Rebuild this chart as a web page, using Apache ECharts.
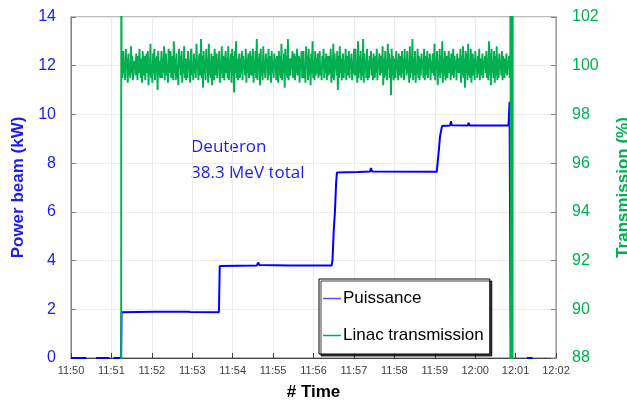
<!DOCTYPE html>
<html>
<head>
<meta charset="utf-8">
<script src="https://cdn.jsdelivr.net/npm/echarts@6/dist/echarts.min.js"></script>
<style>html,body{margin:0;padding:0;background:#fff}#c{width:627px;height:403px}</style>
</head>
<body>
<div id="c"></div>
<script>
// time in minutes after 11:50
const timeLabels = ['11:50','11:51','11:52','11:53','11:54','11:55','11:56','11:57','11:58','11:59','12:00','12:01','12:02'];

// Puissance (kW): [minute, kW]
const powerData = [
  [0,0],[0.38,0],null,[0.62,0],[0.95,0],null,[1.05,0],[1.24,0],
  [1.25,1.88],[2.08,1.9],[2.1,1.97],[2.13,1.9],[2.9,1.9],[2.92,1.93],[2.95,1.89],[3.66,1.88],
  [3.68,3.78],[4.6,3.8],[4.63,3.92],[4.66,3.82],[5.4,3.8],[6.45,3.8],
  [6.47,4.02],[6.5,5.2],[6.53,6.0],[6.56,7.2],[6.58,7.62],[7.1,7.64],[7.4,7.66],[7.42,7.8],[7.45,7.66],[9.05,7.65],
  [9.07,8.0],[9.1,8.5],[9.13,9.1],[9.18,9.52],[9.38,9.55],[9.4,9.72],[9.42,9.56],[9.82,9.55],[9.84,9.66],[9.86,9.55],[10.82,9.55],
  [10.83,9.72],[10.85,10.52],[10.88,0],null,[11.28,0],[11.42,0]
];

// Linac transmission (%) noise samples between 11:51:15 and 12:00:53
const transStart = 1.26, transEnd = 10.87;
const transValues = [
100.4,99.5,100.6,99.7,100.1,99.4,100.7,99.9,100.3,99.3,100.5,99.6,100.0,99.5,100.8,99.7,100.4,99.4,100.2,99.9,
100.2,99.6,100.5,100.0,99.4,100.4,99.7,100.7,99.9,99.5,100.3,99.3,100.6,100.1,99.6,100.4,99.4,100.0,100.5,99.7,
100.6,99.2,100.3,99.6,100.9,99.5,100.0,99.3,100.5,99.7,100.7,99.4,100.3,99.9,100.4,99.0,100.6,99.6,100.2,99.5,
99.9,100.6,99.5,100.3,99.7,100.8,99.4,100.2,100.5,99.6,100.0,99.3,100.7,99.7,100.3,100.6,99.5,99.9,100.4,99.4,
101.0,99.7,100.3,99.4,100.5,99.5,100.0,99.2,100.7,99.9,100.4,99.6,100.6,99.3,100.2,99.7,100.8,99.5,100.3,99.4,
100.3,99.5,100.6,99.9,100.2,99.3,100.4,100.7,99.6,100.0,99.4,100.5,99.7,100.3,99.5,100.9,99.9,100.2,99.4,100.4,
100.5,99.6,101.1,99.5,100.4,99.1,100.6,99.7,100.2,99.4,100.7,99.9,100.3,99.3,100.9,99.6,100.0,99.5,100.5,99.2,
99.7,100.4,99.4,100.7,100.0,99.6,100.5,99.5,100.3,99.9,100.6,99.3,100.2,99.7,100.8,99.5,100.4,100.0,99.4,100.3,
100.6,99.7,100.3,99.5,100.8,99.4,100.2,99.9,100.5,99.3,100.7,99.6,100.4,98.9,100.6,99.7,101.0,99.5,100.3,99.4,
100.0,100.5,99.5,100.3,99.7,100.6,99.4,100.4,99.9,100.2,99.6,100.7,99.3,100.3,99.7,100.5,99.5,100.0,100.6,99.6,
100.4,99.6,100.7,99.3,100.2,99.7,100.6,99.5,101.1,99.4,100.3,99.9,100.5,99.2,100.7,99.6,100.0,99.4,100.8,99.7,
100.2,99.5,100.5,99.9,100.3,99.4,100.7,100.0,99.6,100.4,99.3,100.6,99.7,100.2,99.5,100.5,99.9,100.3,99.4,100.4,
100.3,99.3,100.6,99.6,100.4,99.5,100.9,99.4,100.2,99.7,100.5,99.1,100.7,99.6,100.4,99.5,101.1,99.4,100.3,99.7,
99.6,100.3,99.9,100.6,99.5,100.2,100.5,99.4,100.4,99.7,100.7,99.6,100.0,100.4,99.3,100.3,99.9,100.6,99.5,100.2,
100.6,99.5,100.0,99.3,100.8,99.9,100.4,99.4,100.7,99.6,100.3,99.2,100.5,99.7,101.0,99.5,100.2,99.4,100.6,99.6,
100.3,99.7,100.5,99.5,100.2,100.6,99.6,100.0,99.4,100.4,99.9,100.7,99.5,100.3,99.7,100.5,99.4,100.2,100.4,99.6,
100.4,99.7,100.7,99.3,100.3,99.5,100.9,99.4,100.5,99.9,100.2,99.6,100.6,99.0,100.4,99.5,100.8,99.7,100.3,99.4,
99.9,100.5,99.5,100.2,99.7,100.7,99.4,100.4,100.0,99.6,100.6,99.5,100.3,99.9,100.5,99.4,100.2,99.7,100.7,99.6,
100.7,99.6,100.0,99.3,101.0,99.5,100.4,99.7,100.6,99.4,100.3,99.6,101.1,99.3,100.5,99.9,100.2,99.5,100.7,99.4,
100.2,99.5,100.4,99.9,100.6,99.6,100.3,99.4,100.5,100.0,99.5,100.4,99.7,100.7,99.4,100.2,99.9,100.5,99.6,100.3,
100.4,99.7,100.8,99.2,100.3,99.5,100.6,99.6,100.2,99.4,100.9,99.9,100.5,99.5,100.3,98.8,100.7,99.6,100.4,99.4,
99.7,100.3,99.5,100.6,99.9,100.2,99.4,100.5,99.6,100.4,100.0,99.5,100.6,99.7,100.3,99.4,100.7,99.9,100.2,99.6,
100.6,99.7,100.2,99.3,100.8,99.5,100.4,99.7,101.1,99.4,100.3,99.6,100.6,99.3,100.0,99.7,100.7,99.5,100.4,99.4,
100.3,99.6,100.5,99.9,100.2,99.5,100.7,99.4,100.4,100.0,99.6,100.6,99.5,100.3,99.9,100.5,99.4,100.2,99.7,100.4,
100.5,99.6,100.9,99.4,100.3,99.9,100.6,99.2,100.2,99.6,100.7,99.5,100.4,99.7,101.0,99.3,100.3,99.6,100.6,99.4,
99.9,100.4,99.5,100.2,100.6,99.7,100.3,99.4,100.5,99.6,100.0,100.7,99.5,100.4,99.9,100.2,99.4,100.5,99.7,100.3,
100.2,99.7,100.7,99.3,100.4,99.6,100.8,99.5,100.3,99.1,100.6,99.7,100.5,99.4,100.9,99.6,100.2,99.5,100.7,99.3,
100.0,100.5,99.6,100.3,99.4,100.6,99.9,100.2,99.5,100.4,99.7,100.7,99.4,100.3,100.0,99.6,100.5,99.5,100.2,99.9,
100.4,99.7,100.6,99.5,100.3,99.4,101.0,99.6,100.5,99.2,100.7,99.7,100.2,99.5,100.6,99.3,100.4,99.6,100.8,99.4,
100.3,99.5,100.5,99.9,100.2,99.6,100.6,99.4,100.4,100.0,99.5,100.3,99.7,100.5,99.6,100.2,99.9,100.4,99.5,100.3
];
// end-of-run: signal jumps off scale repeatedly
const transEndTimes = [10.875,10.882,10.889,10.896,10.903,10.910,10.917,10.924,10.931];
const transEndValues = [110,80,110,80,110,80,110,80,110];

const transData = [[0,80],[1.24,80],[1.245,110],[1.25,100.4]];
const step = (transEnd - transStart) / (transValues.length - 1);
transValues.forEach((v,i)=>transData.push([transStart + i*step, v]));
transEndTimes.forEach((t,i)=>transData.push([t, transEndValues[i]]));

const BLUE = '#1c1cf0', GREEN = '#00b050';
const chart = echarts.init(document.getElementById('c'));
chart.setOption({
  animation:false,
  textStyle:{fontFamily:'Liberation Sans, Arial, sans-serif'},
  grid:{left:71,right:71,top:17,bottom:45,outerBoundsMode:'none',containLabel:false,
        show:true,borderColor:'#a6a6a6',borderWidth:1.5},
  xAxis:{type:'value',min:0,max:12,interval:1,
    name:'# Time',nameLocation:'middle',nameGap:26,
    nameTextStyle:{fontSize:17,fontWeight:'bold',color:'#000'},
    axisLine:{lineStyle:{color:'#404040',width:1}},
    axisTick:{inside:true,length:5,lineStyle:{color:'#404040'}},
    axisLabel:{fontSize:11,color:'#404040',margin:7,formatter:v=>timeLabels[Math.round(v)]},
    splitLine:{show:true,lineStyle:{color:'#ececec'}}},
  yAxis:[
    {type:'value',min:0,max:14,interval:2,name:'Power beam (kW)',nameLocation:'middle',nameGap:43,
     nameTextStyle:{fontSize:17,fontWeight:'bold',color:BLUE},
     axisLine:{show:true,lineStyle:{color:'#808080'}},
     axisTick:{show:true,inside:true,length:5,lineStyle:{color:'#808080'}},
     axisLabel:{fontSize:16,color:BLUE,margin:15},
     splitLine:{show:true,lineStyle:{color:'#ececec'}}},
    {type:'value',min:88,max:102,interval:2,name:'Transmission (%)',nameLocation:'middle',nameGap:59,
     nameRotate:90,
     nameTextStyle:{fontSize:17,fontWeight:'bold',color:GREEN},
     axisLine:{show:true,lineStyle:{color:'#a6a6a6'}},
     axisTick:{show:true,inside:true,length:5,lineStyle:{color:'#808080'}},
     axisLabel:{fontSize:16,color:GREEN,margin:16},
     splitLine:{show:false}}
  ],
  legend:{orient:'vertical',left:319,top:279,
    data:[{name:'Puissance',itemStyle:{color:'#5050ff'}},{name:'Linac transmission'}],
    icon:'path://M0,0 L18,0 L18,1.5 L0,1.5 Z',
    itemWidth:18,itemHeight:2,itemGap:20,
    padding:[11,6,10,4],
    backgroundColor:'#fff',borderColor:'#000',borderWidth:1,
    shadowColor:'rgba(0,0,0,0.75)',shadowBlur:0.5,shadowOffsetX:2,shadowOffsetY:2,
    textStyle:{fontSize:17,color:'#000',padding:[0,0,0,-3]}},
  graphic:[
    {type:'text',left:191,top:139,style:{text:'Deuteron',fontSize:17,fill:BLUE,fontFamily:'Open Sans'}},
    {type:'text',left:191,top:165,style:{text:'38.3 MeV total',fontSize:17,fill:BLUE,fontFamily:'Open Sans'}}
  ],
  series:[
    {name:'Puissance',type:'line',data:powerData,yAxisIndex:0,showSymbol:false,symbol:'none',
     lineStyle:{color:'#0000ff',width:2},itemStyle:{color:'#0000ff'},connectNulls:false,z:2},
    {name:'Linac transmission',type:'line',data:transData,yAxisIndex:1,showSymbol:false,symbol:'none',
     lineStyle:{color:GREEN,width:1.9},itemStyle:{color:GREEN},z:3}
  ]
});
</script>
</body>
</html>
